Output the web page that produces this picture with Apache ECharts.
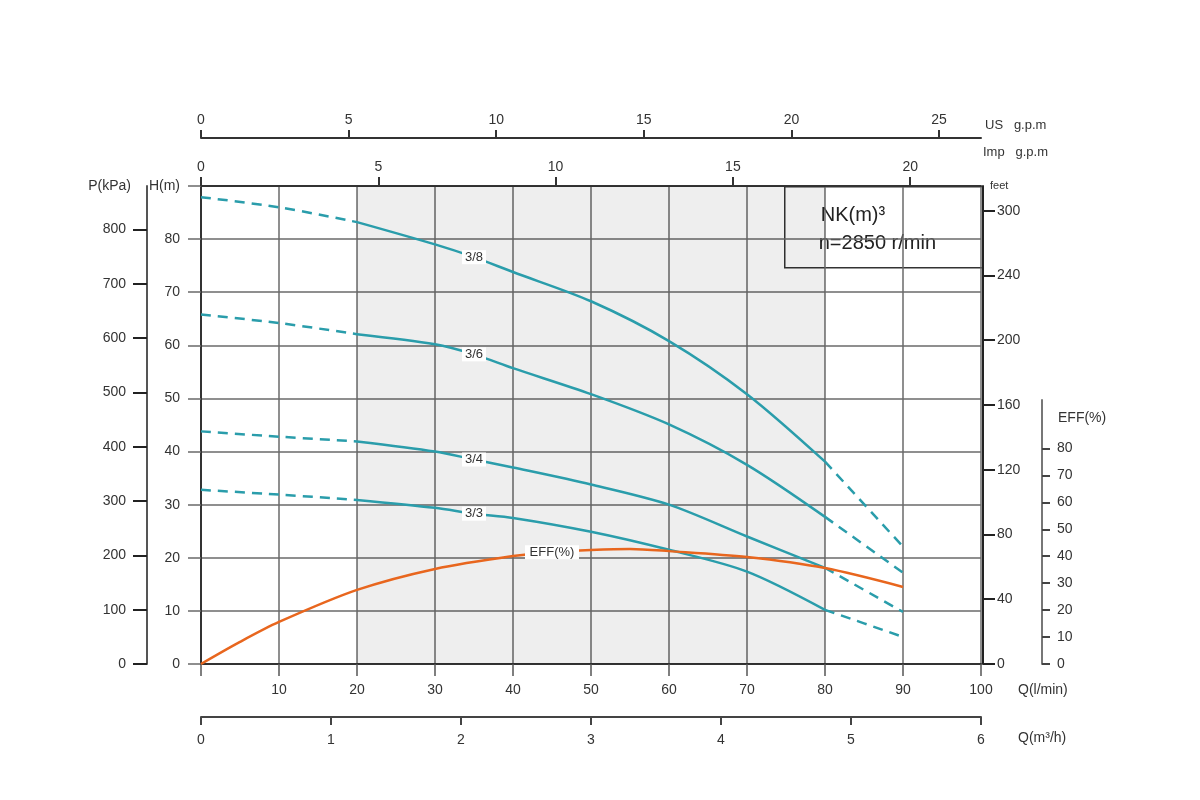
<!DOCTYPE html>
<html>
<head>
<meta charset="utf-8">
<title>NK(m) pump curve</title>
<script src="https://cdn.jsdelivr.net/npm/echarts@6.0.0/dist/echarts.min.js"></script>
<style>
  html, body { margin: 0; background: #fff; }
  #main { width: 1200px; height: 800px; }
</style>
</head>
<body>
<div id="main"></div>
<script>
// flow points (l/min) and head (m) for each impeller stage curve
var flowQ = [0, 10, 20, 30, 35, 40, 50, 60, 70, 80, 90];
var head38 = [87.9, 86.0, 83.2, 79.0, 76.6, 73.8, 68.3, 60.8, 50.8, 38.1, 22.1];
var head36 = [65.8, 64.2, 62.1, 60.2, 58.3, 55.7, 50.8, 45.1, 37.5, 27.7, 17.2];
var head34 = [43.8, 42.8, 41.9, 40.0, 38.5, 37.0, 33.8, 30.0, 24.0, 18.1, 9.8];
var head33 = [32.8, 31.9, 30.9, 29.4, 28.3, 27.5, 24.9, 21.5, 17.4, 10.2, 5.1];
var curveNames = ['3/8', '3/6', '3/4', '3/3'];
var labelQ = 35;

// efficiency curve
var effQ = [0, 5, 10, 20, 30, 40, 45, 50, 55, 60, 70, 80, 90];
var effVal = [0, 8.2, 15.6, 27.5, 35.3, 40.1, 41.5, 42.3, 42.7, 41.9, 39.7, 35.6, 28.6];
var effLabelQ = 45;

// recommended working range (solid part / gray band)
var solidRange = [20, 80];

// tick values of the secondary scales
var usTicks = [0, 5, 10, 15, 20, 25];
var impTicks = [0, 5, 10, 15, 20];
var pTicks = [0, 100, 200, 300, 400, 500, 600, 700, 800];
var feetTicks = [0, 40, 80, 120, 160, 200, 240, 280];
var feetTickText = ['0', '40', '80', '120', '160', '200', '240', '300'];
var effTicks = [0, 10, 20, 30, 40, 50, 60, 70, 80];

var teal = '#2a9dab';
var orange = '#e8661e';
var font = '"Liberation Sans", Arial, sans-serif';
var txt = { color: '#333', fontSize: 14, fontFamily: font };

var hMax = 90;

function solidPart(h) {
  return flowQ.map(function (q, i) { return [q, h[i]]; })
    .filter(function (p) { return p[0] >= solidRange[0] && p[0] <= solidRange[1]; });
}
function dashedPart(h) {
  return flowQ.map(function (q, i) {
    return (q > solidRange[0] && q < solidRange[1]) ? [q, '-'] : [q, h[i]];
  });
}

var chart = echarts.init(document.getElementById('main'));

var heads = [head38, head36, head34, head33];
var series = [];
heads.forEach(function (h, k) {
  var s = {
    name: curveNames[k],
    type: 'line',
    xAxisIndex: 0,
    yAxisIndex: 0,
    data: solidPart(h),
    smooth: 0.3,
    symbol: 'none',
    lineStyle: { color: teal, width: 2.5 },
    z: 3,
    markPoint: {
      symbol: 'rect',
      symbolSize: [24, 14],
      itemStyle: { color: '#fff' },
      label: { show: true, position: 'inside', formatter: '{b}', color: '#333', fontSize: 13, fontFamily: font },
      data: [{ name: curveNames[k], coord: [labelQ, h[flowQ.indexOf(labelQ)]] }]
    }
  };
  if (k === 0) {
    s.markArea = {
      silent: true,
      itemStyle: { color: 'rgba(0,0,0,0.065)' },
      data: [[{ xAxis: solidRange[0] }, { xAxis: solidRange[1] }]]
    };
  }
  series.push(s);
  series.push({
    name: curveNames[k] + ' ext',
    type: 'line',
    xAxisIndex: 0,
    yAxisIndex: 0,
    data: dashedPart(h),
    smooth: 0.3,
    symbol: 'none',
    connectNulls: false,
    lineStyle: { color: teal, width: 2.5, type: [10, 7] },
    z: 3
  });
});

series.push({
  name: 'EFF(%)',
  type: 'line',
  xAxisIndex: 4,
  yAxisIndex: 3,
  data: effQ.map(function (q, i) { return [q, effVal[i]]; }),
  smooth: 0.3,
  symbol: 'none',
  lineStyle: { color: orange, width: 2.5 },
  z: 4,
  markPoint: {
    symbol: 'rect',
    symbolSize: [54, 14],
    itemStyle: { color: '#fff' },
    label: { show: true, position: 'inside', formatter: '{b}', color: '#333', fontSize: 13, fontFamily: font },
    data: [{ name: 'EFF(%)', coord: [effLabelQ, effVal[effQ.indexOf(effLabelQ)]] }]
  }
});

var option = {
  animation: false,
  backgroundColor: '#fff',
  grid: [
    { left: 201, right: 219, top: 186, bottom: 136, show: false },
    { left: 201, right: 219, top: 400, bottom: 136, show: false }
  ],
  xAxis: [
    {
      // Q (l/min)
      type: 'value', gridIndex: 0, position: 'bottom',
      min: 0, max: 100, interval: 10,
      name: 'Q(l/min)', nameLocation: 'end', nameGap: 37,
      nameTextStyle: Object.assign({}, txt, { verticalAlign: 'top', padding: [19, 0, 0, 0] }),
      axisLine: { show: true, onZero: false, lineStyle: { color: '#333', width: 2 } },
      axisTick: { show: true, length: 12, lineStyle: { color: '#555', width: 1.5 } },
      axisLabel: Object.assign({}, txt, { margin: 19, formatter: function (v) { return v === 0 ? '' : v; } }),
      splitLine: { show: true, lineStyle: { color: '#6a6a6a', width: 1.5 } }
    },
    {
      // Q (m3/h)
      type: 'value', gridIndex: 0, position: 'bottom', offset: 53,
      min: 0, max: 6, interval: 1,
      name: 'Q(m³/h)', nameLocation: 'end', nameGap: 37,
      nameTextStyle: Object.assign({}, txt, { verticalAlign: 'top', padding: [14, 0, 0, 0] }),
      axisLine: { show: true, onZero: false, lineStyle: { color: '#444', width: 2 } },
      axisTick: { show: true, length: 8, lineStyle: { color: '#444', width: 2 } },
      axisLabel: Object.assign({}, txt, { margin: 16 }),
      splitLine: { show: false }
    },
    {
      // Imp gpm
      type: 'value', gridIndex: 0, position: 'top',
      min: 0, max: 100 / 4.546,
      name: 'Imp   g.p.m', nameLocation: 'end', nameGap: 2,
      nameTextStyle: Object.assign({}, txt, { fontSize: 13, verticalAlign: 'bottom', padding: [0, 0, 27, 0] }),
      axisLine: { show: true, onZero: false, lineStyle: { color: '#333', width: 2 } },
      axisTick: { show: true, length: 9, customValues: impTicks, lineStyle: { color: '#333', width: 2 } },
      axisLabel: Object.assign({}, txt, { margin: 12, customValues: impTicks }),
      splitLine: { show: false }
    },
    {
      // US gpm
      type: 'value', gridIndex: 0, position: 'top', offset: 48,
      min: 0, max: 100 / 3.785,
      name: 'US   g.p.m', nameLocation: 'end', nameGap: 4,
      nameTextStyle: Object.assign({}, txt, { fontSize: 13, verticalAlign: 'bottom', padding: [0, 0, 6, 0] }),
      axisLine: { show: true, onZero: false, lineStyle: { color: '#333', width: 2 } },
      axisTick: { show: true, length: 8, customValues: usTicks, lineStyle: { color: '#333', width: 2 } },
      axisLabel: Object.assign({}, txt, { margin: 11, customValues: usTicks }),
      splitLine: { show: false }
    },
    {
      type: 'value', gridIndex: 1, min: 0, max: 100, show: false
    }
  ],
  yAxis: [
    {
      // H (m)
      type: 'value', gridIndex: 0, position: 'left',
      min: 0, max: hMax, interval: 10,
      name: 'H(m)', nameLocation: 'end', nameGap: 0,
      nameTextStyle: Object.assign({}, txt, { align: 'right', verticalAlign: 'middle', padding: [0, 21, 0, 0] }),
      axisLine: { show: true, onZero: false, lineStyle: { color: '#333', width: 2 } },
      axisTick: { show: true, length: 13, lineStyle: { color: '#6a6a6a', width: 1.5 } },
      axisLabel: Object.assign({}, txt, { margin: 21, formatter: function (v) { return v === hMax ? '' : v; } }),
      splitLine: { show: true, lineStyle: { color: '#6a6a6a', width: 1.5 } }
    },
    {
      // P (kPa)
      type: 'value', gridIndex: 0, position: 'left', offset: 54,
      min: 0, max: 880,
      name: 'P(kPa)', nameLocation: 'end', nameGap: 0,
      nameTextStyle: Object.assign({}, txt, { align: 'right', verticalAlign: 'middle', padding: [0, 16, 0, 0] }),
      axisLine: { show: true, onZero: false, lineStyle: { color: '#555', width: 2 } },
      axisTick: { show: true, length: 14, customValues: pTicks, lineStyle: { color: '#222', width: 2 } },
      axisLabel: Object.assign({}, txt, { margin: 21, customValues: pTicks }),
      splitLine: { show: false }
    },
    {
      // feet
      type: 'value', gridIndex: 0, position: 'right', offset: 2,
      min: 0, max: hMax / 0.3048,
      name: 'feet', nameLocation: 'end', nameGap: 0,
      nameTextStyle: Object.assign({}, txt, { fontSize: 11, align: 'left', verticalAlign: 'middle', padding: [4, 0, 0, 7] }),
      axisLine: { show: true, onZero: false, lineStyle: { color: '#222', width: 2 } },
      axisTick: { show: true, length: 12, customValues: feetTicks, lineStyle: { color: '#222', width: 2 } },
      axisLabel: Object.assign({}, txt, {
        margin: 14, customValues: feetTicks,
        formatter: function (v) {
          var i = feetTicks.indexOf(Math.round(v));
          return i < 0 ? '' : feetTickText[i];
        }
      }),
      splitLine: { show: false }
    },
    {
      // EFF (%)
      type: 'value', gridIndex: 1, position: 'right', offset: 61,
      min: 0, max: 98,
      name: 'EFF(%)', nameLocation: 'end', nameGap: -18,
      nameTextStyle: Object.assign({}, txt, { align: 'left', verticalAlign: 'middle', padding: [0, 0, 0, 16] }),
      axisLine: { show: true, onZero: false, lineStyle: { color: '#777', width: 2 } },
      axisTick: { show: true, length: 8, customValues: effTicks, lineStyle: { color: '#444', width: 2 } },
      axisLabel: Object.assign({}, txt, { margin: 15, customValues: effTicks }),
      splitLine: { show: false }
    }
  ],
  graphic: [
    {
      type: 'group', left: 784, top: 186, z: 100,
      children: [
        { type: 'rect', shape: { x: 0, y: 0, width: 198, height: 81 }, style: { fill: '#fff', stroke: '#333', lineWidth: 1.5 } },
        { type: 'text', x: 36, y: 29, style: { text: 'NK(m)³', font: '20px ' + font, fill: '#222', verticalAlign: 'middle' } },
        { type: 'text', x: 34, y: 57, style: { text: 'n=2850 r/min', font: '20px ' + font, fill: '#222', verticalAlign: 'middle' } }
      ]
    }
  ],
  series: series
};

chart.setOption(option);
</script>
</body>
</html>
